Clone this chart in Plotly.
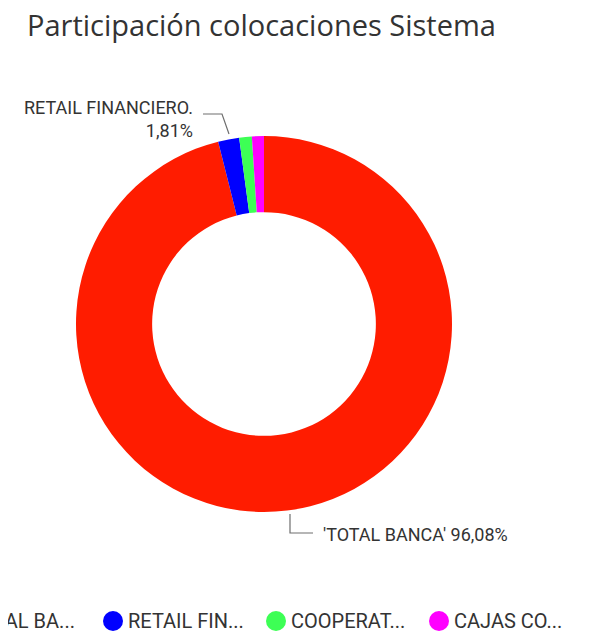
import plotly.graph_objects as go

# the page body adds an 8px margin, so the figure is drawn 8px in from the window edge
OFF = 8
W, H = 589 - OFF, 638 - OFF

categories = ["'TOTAL BANCA'", "RETAIL FINANCIERO.", "COOPERATIVAS", "CAJAS COMPENSACIÓN"]
shares = [96.08, 1.81, 1.08, 1.03]
legend_labels = ["'TOTAL BA...", "RETAIL FIN...", "COOPERAT...", "CAJAS CO..."]
colors = ["#FF1C00", "#0000FF", "#3DFF55", "#FF00FF"]


def px_x(x):
    # window pixel -> paper fraction
    return (x - OFF) / W


def px_y(y):
    return 1 - (y - OFF) / H


def pct(v):
    return f"{v:.2f}%".replace(".", ",")


fig = go.Figure()

fig.add_trace(
    go.Pie(
        labels=categories,
        values=shares,
        hole=0.595,
        sort=False,
        direction="clockwise",
        rotation=0,
        marker=dict(colors=colors, line=dict(width=0)),
        textinfo="none",
        showlegend=False,
        domain=dict(x=[px_x(76), px_x(452)], y=[px_y(512), px_y(136)]),
    )
)

# outside labels with elbow leader lines
lab_font = dict(family="Roboto", size=18, color="#333333")
fig.add_annotation(
    x=px_x(195), y=px_y(119), xref="paper", yref="paper",
    text=f"{categories[1]}<br>{pct(shares[1])}",
    showarrow=False, xanchor="right", yanchor="middle", align="right",
    font=lab_font,
)
fig.add_annotation(
    x=px_x(321), y=px_y(534), xref="paper", yref="paper",
    text=f"{categories[0]} {pct(shares[0])}",
    showarrow=False, xanchor="left", yanchor="middle", align="left",
    font=lab_font,
)
line_style = dict(color="#6E6E6E", width=1.2)
fig.add_shape(
    type="path", xref="paper", yref="paper",
    path=f"M {px_x(203)} {px_y(114)} L {px_x(222)} {px_y(114)} L {px_x(229)} {px_y(134)}",
    line=line_style,
)
fig.add_shape(
    type="path", xref="paper", yref="paper",
    path=f"M {px_x(290)} {px_y(514)} L {px_x(290)} {px_y(533)} L {px_x(313)} {px_y(533)}",
    line=line_style,
)

# legend row along the bottom: round swatch + truncated name, first one runs off the left edge
leg_y, step, first_cx, rad = 621, 163, -50, 10
for i, (name, col) in enumerate(zip(legend_labels, colors)):
    cx = first_cx + i * step
    fig.add_shape(
        type="circle", xref="paper", yref="paper",
        x0=px_x(cx - rad), x1=px_x(cx + rad), y0=px_y(leg_y + rad), y1=px_y(leg_y - rad),
        fillcolor=col, line=dict(width=0),
    )
    fig.add_annotation(
        x=px_x(cx + rad + 3), y=px_y(leg_y), xref="paper", yref="paper",
        text=name, showarrow=False, xanchor="left", yanchor="middle",
        font=dict(family="Roboto", size=20, color="#333333"),
    )

fig.update_layout(
    width=W, height=H,
    margin=dict(l=0, r=0, t=0, b=0, autoexpand=False),
    paper_bgcolor="white", plot_bgcolor="white",
    title=dict(
        text="Participación colocaciones Sistema",
        x=px_x(27), xanchor="left", xref="container",
        y=px_y(26), yanchor="middle", yref="container",
        font=dict(family="Open Sans", size=29, color="#333333"),
    ),
)

fig.write_html("out.html")
